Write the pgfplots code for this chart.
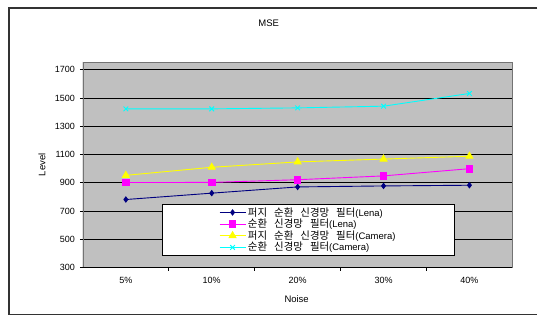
\documentclass[border=0pt]{standalone}
\usepackage{fontspec}
\setmainfont{Liberation Sans}
\newfontfamily\kr[Scale=1.1, WordSpace=3]{Noto Sans CJK KR}
\usepackage{pgfplots}
\pgfplotsset{compat=1.18}
\definecolor{plotgray}{HTML}{C0C0C0}
\definecolor{navy}{HTML}{000080}
\definecolor{mag}{HTML}{FF00FF}
\definecolor{yel}{HTML}{FFFF00}
\definecolor{cya}{HTML}{00FFFF}
\begin{document}
\begin{tikzpicture}[x=1pt,y=1pt]
\path (0,0) rectangle (538,316);
\draw[line width=1.3pt, color=black!80] (538,308) -- (9,308) -- (9,1) -- (538,1);
\node[font=\fontsize{9.5}{10}\selectfont] at (269,293) {MSE};
\node[font=\fontsize{9.5}{10}\selectfont, rotate=90] at (42,151) {Level};
\node[font=\fontsize{9.5}{10}\selectfont] at (297,17) {Noise};
\begin{axis}[
  at={(83pt,48pt)}, anchor=south west, scale only axis,
  width=430pt, height=206pt,
  xmin=-0.5, xmax=4.5, ymin=300, ymax=1755,
  ytick={300,500,...,1700},
  xtick={0.5,1.5,2.5,3.5}, xticklabels={},
  extra x ticks={0,1,2,3,4},
  extra x tick labels={5\%,10\%,20\%,30\%,40\%},
  extra x tick style={major tick length=0pt, grid=none},
  tick align=outside, major tick length=3pt,
  tick style={black, line width=0.8pt},
  xtick pos=bottom, ytick pos=left,
  axis background/.style={fill=plotgray},
  axis line style={draw=black!55, line width=0.8pt},
  ymajorgrids, major grid style={black, line width=0.9pt},
  tick label style={font=\fontsize{9}{10}\selectfont},
  /pgf/number format/assume math mode=true,
  /pgf/number format/set thousands separator={},
  yticklabel style={xshift=-1.5pt},
  xticklabel style={yshift=-6pt},
  legend style={at={(rel axis cs:0.1837,0.0597)}, anchor=south west,
    draw=black, line width=0.8pt, fill=white,
    font=\fontsize{9.5}{10}\selectfont, inner xsep=57pt, inner ysep=0.5pt,
    row sep=-2.5pt},
  legend cell align=left,
  legend image code/.code={\draw[mark repeat=2,mark phase=2] plot coordinates {(0pt,0pt)(13pt,0pt)(26pt,0pt)};},
]
\addplot[navy, line width=0.9pt, mark=diamond*, mark size=2.6pt, mark options={solid, fill=navy}]
  coordinates {(0,782) (1,827) (2,871) (3,878) (4,883)};
\addlegendentry{{\kr 퍼지 순환 신경망 필터}(Lena)}
\addplot[mag, line width=0.9pt, mark=square*, mark size=3.3pt, mark options={solid, fill=mag}]
  coordinates {(0,902) (1,903) (2,922) (3,949) (4,1000)};
\addlegendentry{{\kr 순환 신경망 필터}(Lena)}
\addplot[yel, line width=0.9pt, mark=triangle*, mark size=4pt, mark options={solid, fill=yel}]
  coordinates {(0,953) (1,1010) (2,1048) (3,1068) (4,1088)};
\addlegendentry{{\kr 퍼지 순환 신경망 필터}(Camera)}
\addplot[cya, line width=0.9pt, mark=x, mark size=3.3pt, mark options={solid, line width=1pt}]
  coordinates {(0,1423) (1,1423) (2,1430) (3,1442) (4,1532)};
\addlegendentry{{\kr 순환 신경망 필터}(Camera)}
\draw[black, line width=1pt] (rel axis cs:0,1) -- (rel axis cs:0,0) -- (rel axis cs:1,0);
\end{axis}
\end{tikzpicture}
\end{document}
